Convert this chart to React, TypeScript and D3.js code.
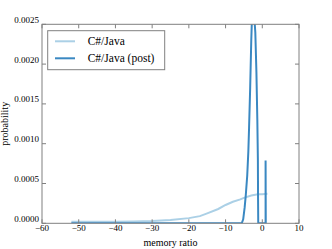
import React from "react";
import * as d3 from "d3";

// C#/Java curve: [memory ratio, probability]
const javaX = [-52, -45, -40, -35, -30, -25, -20, -17, -15, -12, -10, -8, -6, -5, -3, -1.2, 0, 1.4];
const javaY = [0.00002, 0.00002, 0.00002, 0.000022, 0.000028, 0.00004, 0.000065, 0.00009, 0.000125, 0.00018, 0.00023, 0.00027, 0.0003, 0.00032, 0.00035, 0.000364, 0.000366, 0.00037];

// C#/Java (post) curve
const postX = [-52, -6, -5.6, -5.2, -4.8, -4.5, -4.1, -3.8, -3.6, -3.3, -3.0, -2.8, -2.5, -2.2, -1.9, -1.6, -1.35, -1.2, -1.15, -1.1, 0.9, 0.9, 0.95];
const postY = [0, 0, 0, 0.00005, 0.0002, 0.00035, 0.0006, 0.0009, 0.0012, 0.0017, 0.0023, 0.0026, 0.0027, 0.0026, 0.0024, 0.0019, 0.0013, 0.0008, 0.0003, 0, 0, 0.00079, 0];

const xTicks = [-60, -50, -40, -30, -20, -10, 0, 10];
const yTicks = [0, 0.0005, 0.001, 0.0015, 0.002, 0.0025];

const seriesNames = ["C#/Java", "C#/Java (post)"];
const colors = ["#abd0e6", "#3a88c2"];

const W = 332;
const H = 249;
const left = 42;
const right = 299;
const top = 24.3;
const bottom = 223.3;
const serif = { fontFamily: '"Liberation Serif", "Times New Roman", Times, "DejaVu Serif", serif' };
const spine = "#808080";

export default function App() {
  const x = d3.scaleLinear().domain([-60, 10]).range([left, right]);
  const y = d3.scaleLinear().domain([0, 0.0025]).range([bottom, top]);
  const line = d3
    .line<[number, number]>()
    .x((d) => x(d[0]))
    .y((d) => y(d[1]));

  const java = javaX.map((v, i) => [v, javaY[i]] as [number, number]);
  const post = postX.map((v, i) => [v, postY[i]] as [number, number]);
  const minus = (v: number) => (v < 0 ? "\u2212" + Math.abs(v) : String(v));

  return (
    <svg width={W} height={H} style={{ position: "absolute", left: 0, top: 0 }}>
      <rect width={W} height={H} fill="#fff" />
      <defs>
        <clipPath id="plot">
          <rect x={left} y={top} width={right - left} height={bottom - top} />
        </clipPath>
      </defs>
      <g clipPath="url(#plot)">
        <path d={line(java)!} fill="none" stroke={colors[0]} strokeWidth={2} />
        <path d={line(post)!} fill="none" stroke={colors[1]} strokeWidth={2} />
      </g>
      <rect
        x={left}
        y={top}
        width={right - left}
        height={bottom - top}
        fill="none"
        stroke={spine}
        strokeWidth={1}
      />
      {xTicks.map((t) => (
        <g key={"x" + t}>
          <line x1={x(t)} x2={x(t)} y1={bottom} y2={bottom - 4} stroke={spine} />
          <line x1={x(t)} x2={x(t)} y1={top} y2={top + 4} stroke={spine} />
          <text x={x(t)} y={bottom + 8} fontSize={9} textAnchor="middle" fill="#000" style={serif}>
            {minus(t)}
          </text>
        </g>
      ))}
      {yTicks.map((t) => (
        <g key={"y" + t}>
          <line x1={left} x2={left + 4} y1={y(t)} y2={y(t)} stroke={spine} />
          <line x1={right} x2={right - 4} y1={y(t)} y2={y(t)} stroke={spine} />
          <text x={left - 3} y={y(t) - 1.5} fontSize={9} textAnchor="end" fill="#000" style={serif}>
            {t.toFixed(4)}
          </text>
        </g>
      ))}
      <text x={(left + right) / 2} y={246} fontSize={10} textAnchor="middle" fill="#000" style={serif}>
        memory ratio
      </text>
      <text
        transform={`translate(7.5,${(top + bottom) / 2}) rotate(-90)`}
        fontSize={10}
        textAnchor="middle"
        fill="#000"
        style={serif}
      >
        probability
      </text>
      <g>
        <rect x={47.7} y={30.7} width={117} height={39} fill="#fff" stroke={spine} strokeWidth={1} />
        {seriesNames.map((s, i) => (
          <g key={s}>
            <line
              x1={55}
              x2={75}
              y1={41.3 + i * 17}
              y2={41.3 + i * 17}
              stroke={colors[i]}
              strokeWidth={2}
            />
            <text x={87.7} y={45.3 + i * 17} fontSize={11.5} fill="#000" style={serif}>
              {s}
            </text>
          </g>
        ))}
      </g>
    </svg>
  );
}
